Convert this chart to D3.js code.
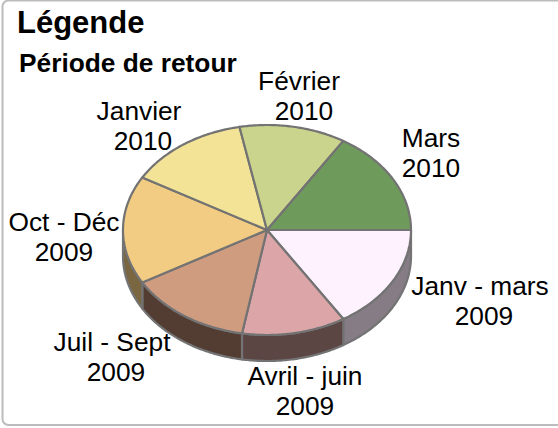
<!DOCTYPE html>
<html lang="fr">
<head>
<meta charset="utf-8">
<script src="https://cdn.jsdelivr.net/npm/d3@7/dist/d3.min.js"></script>
<style>
html,body{margin:0;padding:0;background:#fff;overflow:hidden}
svg{display:block}
text{font-family:"Liberation Sans",Arial,sans-serif;fill:#000}
</style>
</head>
<body>
<script>
const periods = ["Janv - mars","Avril - juin","Juil - Sept","Oct - Déc","Janvier","Février","Mars"];
const years = ["2009","2009","2009","2009","2010","2010","2010"];
const shares = [58,42,50,60,49,43,58];
const topColors = ["#fff2ff","#dca6a9","#cf9c80","#f2cc82","#f3e397","#cbd48c","#6e9a5c"];
const wallColors = ["#857c86","#5c4644","#533c31","#7a6640",null,null,null];
const legendTitle = "Légende";
const chartTitle = "Période de retour";

// Label layout, kept apart from the data: period centre x, year centre x, first baseline
const labelPos = [[480,484,295],[305,305,385],[112,116,351],[64,64,231],[139,143,120],[299,304,90],[431,431,147]];

const W = 558, H = 428, depth = 26;
const svg = d3.select("body").append("svg").attr("width",W).attr("height",H);

svg.append("rect").attr("x",2.5).attr("y",0.5).attr("width",W+10).attr("height",H-3.5)
  .attr("rx",6).attr("fill","#fff").attr("stroke","#bcbcbc").attr("stroke-width",2);

const x = d3.scaleLinear().domain([-1,1]).range([123,411]);
const y = d3.scaleLinear().domain([-1,1]).range([125,335]);

const pie = d3.pie().sort(null).startAngle(Math.PI/2).endAngle(Math.PI*2.5);
const arcs = pie(shares);

const onRim = a => [Math.sin(a), -Math.cos(a)];
const rim = (a0,a1) => d3.range(0,61).map(i => onRim(a0+(a1-a0)*i/60));
const toPx = (dy=0) => d3.line().x(p=>x(p[0])).y(p=>y(p[1])+dy);

const strokeCol = "#737373";

// side walls: only the part of the rim turned to the viewer (3 o'clock to 9 o'clock)
arcs.forEach((d,i)=>{
  const a0 = Math.max(d.startAngle, Math.PI/2), a1 = Math.min(d.endAngle, Math.PI*1.5);
  if (a1 <= a0 || !wallColors[i]) return;
  const r = rim(a0,a1);
  const top = toPx(0)(r);
  const bottom = toPx(depth)(r.slice().reverse());
  svg.append("path").attr("d", top + "L" + bottom.slice(1) + "Z")
    .attr("fill",wallColors[i]).attr("stroke",strokeCol).attr("stroke-width",2.2).attr("stroke-linejoin","round");
});

// top faces
arcs.forEach((d,i)=>{
  const r = rim(d.startAngle,d.endAngle);
  svg.append("path").attr("d", toPx(0)([[0,0],...r]) + "Z")
    .attr("fill",topColors[i]).attr("stroke",strokeCol).attr("stroke-width",2.2).attr("stroke-linejoin","round");
});

svg.append("text").attr("x",17).attr("y",33).attr("font-size",31).attr("font-weight","bold").text(legendTitle);
svg.append("text").attr("x",19).attr("y",72).attr("font-size",26.3).attr("font-weight","bold").text(chartTitle);

periods.forEach((p,i)=>{
  const t = svg.append("text").attr("text-anchor","middle").attr("font-size",26.3);
  t.append("tspan").attr("x",labelPos[i][0]).attr("y",labelPos[i][2]).text(p);
  t.append("tspan").attr("x",labelPos[i][1]).attr("y",labelPos[i][2]+30).text(years[i]);
});
</script>
</body>
</html>
